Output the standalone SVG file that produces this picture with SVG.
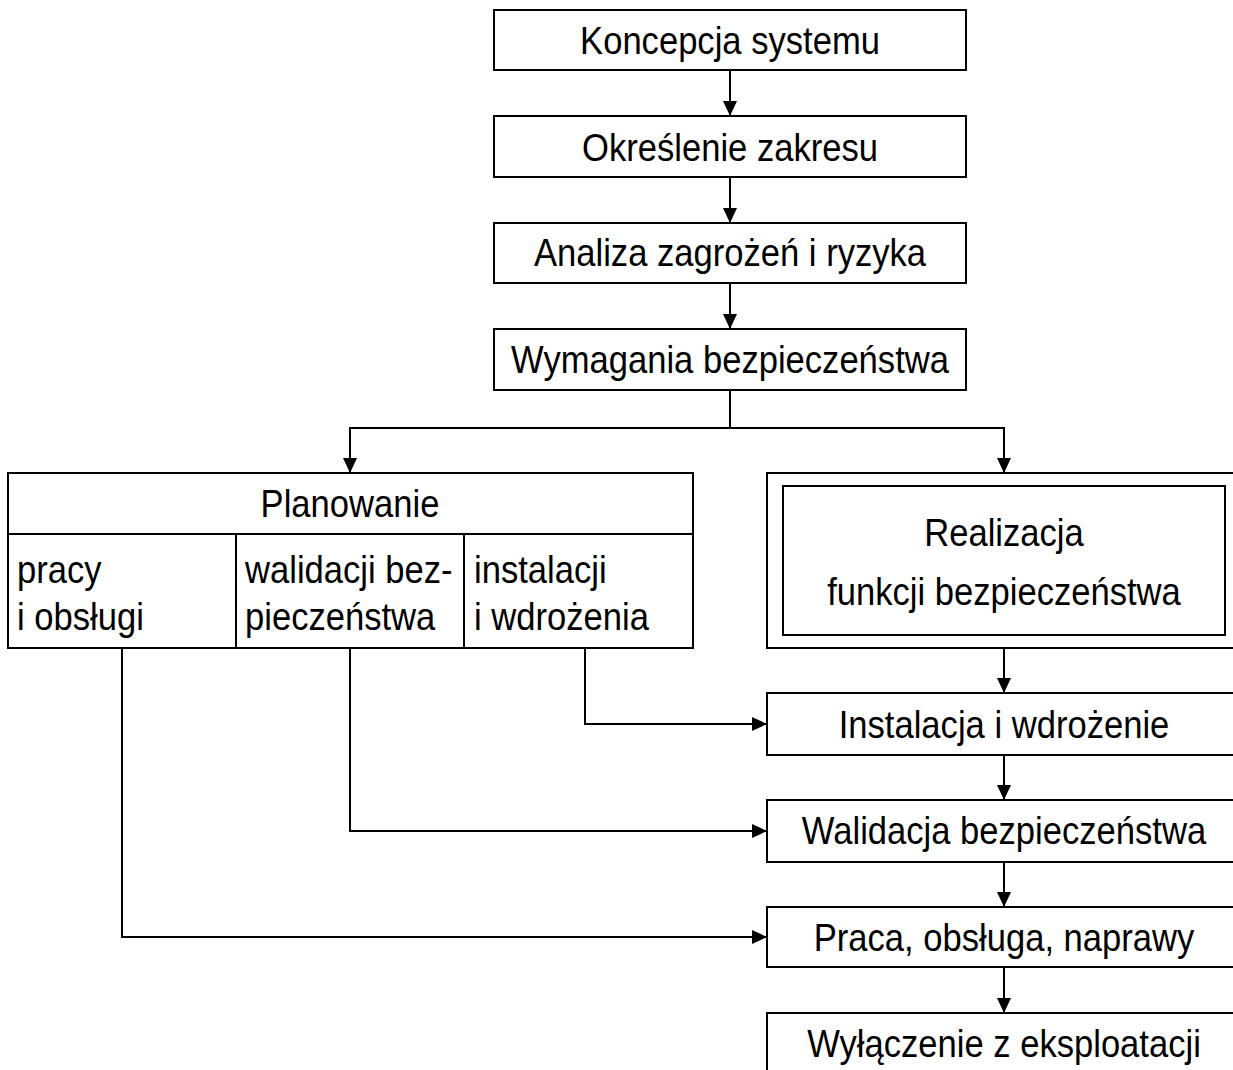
<svg xmlns="http://www.w3.org/2000/svg" width="1233" height="1070" viewBox="0 0 1233 1070">
  <style>
    .box { fill: #fff; stroke: #000; stroke-width: 2; }
    .div { fill: none; stroke: #000; stroke-width: 2; }
    .conn { fill: none; stroke: #000; stroke-width: 2; }
    .t { font-family: "Liberation Sans", Arial, sans-serif; font-size: 38px; fill: #000; }
    .c { text-anchor: middle; }
  </style>
  <defs>
    <marker id="arrow" markerUnits="userSpaceOnUse" markerWidth="15" markerHeight="14" refX="15" refY="7" orient="auto">
      <path d="M0,0 L15,7 L0,14 z" fill="#000"/>
    </marker>
  </defs>
  <rect width="1233" height="1070" fill="#fff"/>

  <!-- connectors -->
  <g id="connectors">
    <path class="conn" d="M730,70 V116" marker-end="url(#arrow)"/>
    <path class="conn" d="M730,177 V223" marker-end="url(#arrow)"/>
    <path class="conn" d="M730,283 V329" marker-end="url(#arrow)"/>
    <path class="conn" d="M730,390 V428 H350 V473" marker-end="url(#arrow)"/>
    <path class="conn" d="M730,428 H1004 V473" marker-end="url(#arrow)"/>
    <path class="conn" d="M1004,648 V693" marker-end="url(#arrow)"/>
    <path class="conn" d="M1004,755 V800" marker-end="url(#arrow)"/>
    <path class="conn" d="M1004,862 V907" marker-end="url(#arrow)"/>
    <path class="conn" d="M1004,967 V1013" marker-end="url(#arrow)"/>
    <path class="conn" d="M585,648 V724 H767" marker-end="url(#arrow)"/>
    <path class="conn" d="M350,648 V831 H767" marker-end="url(#arrow)"/>
    <path class="conn" d="M122,648 V937 H767" marker-end="url(#arrow)"/>
  </g>

  <!-- main chain -->
  <g id="koncepcja">
    <rect class="box" x="494" y="10" width="472" height="60"/>
    <text class="t c" transform="translate(730 54) scale(0.91 1)">Koncepcja systemu</text>
  </g>
  <g id="okreslenie">
    <rect class="box" x="494" y="116" width="472" height="61"/>
    <text class="t c" transform="translate(730 161) scale(0.91 1)">Określenie zakresu</text>
  </g>
  <g id="analiza">
    <rect class="box" x="494" y="223" width="472" height="60"/>
    <text class="t c" transform="translate(730 266) scale(0.91 1)">Analiza zagrożeń i ryzyka</text>
  </g>
  <g id="wymagania">
    <rect class="box" x="494" y="329" width="472" height="61"/>
    <text class="t c" transform="translate(730 373) scale(0.91 1)">Wymagania bezpieczeństwa</text>
  </g>

  <!-- planning block -->
  <g id="planowanie">
    <rect class="box" x="8" y="473" width="685" height="175"/>
    <path class="div" d="M8,534 H693 M236,534 V648 M464,534 V648"/>
    <text class="t c" transform="translate(350 517) scale(0.91 1)">Planowanie</text>
    <text class="t" transform="translate(17 583) scale(0.91 1)">pracy</text>
    <text class="t" transform="translate(17 630) scale(0.91 1)">i obsługi</text>
    <text class="t" transform="translate(245 583) scale(0.91 1)">walidacji bez-</text>
    <text class="t" transform="translate(245 630) scale(0.91 1)">pieczeństwa</text>
    <text class="t" transform="translate(474 583) scale(0.91 1)">instalacji</text>
    <text class="t" transform="translate(474 630) scale(0.91 1)">i wdrożenia</text>
  </g>

  <!-- realization block -->
  <g id="realizacja">
    <rect class="box" x="767" y="473" width="474" height="175"/>
    <rect class="box" x="783" y="486" width="442" height="149"/>
    <text class="t c" transform="translate(1004 546) scale(0.91 1)">Realizacja</text>
    <text class="t c" transform="translate(1004 605) scale(0.91 1)">funkcji bezpieczeństwa</text>
  </g>

  <g id="instalacja">
    <rect class="box" x="767" y="693" width="474" height="62"/>
    <text class="t c" transform="translate(1004 738) scale(0.91 1)">Instalacja i wdrożenie</text>
  </g>
  <g id="walidacja">
    <rect class="box" x="767" y="800" width="474" height="62"/>
    <text class="t c" transform="translate(1004 844) scale(0.91 1)">Walidacja bezpieczeństwa</text>
  </g>
  <g id="praca">
    <rect class="box" x="767" y="907" width="474" height="60"/>
    <text class="t c" transform="translate(1004 951) scale(0.91 1)">Praca, obsługa, naprawy</text>
  </g>
  <g id="wylaczenie">
    <rect class="box" x="767" y="1013" width="474" height="70"/>
    <text class="t c" transform="translate(1004 1057) scale(0.91 1)">Wyłączenie z eksploatacji</text>
  </g>
</svg>
